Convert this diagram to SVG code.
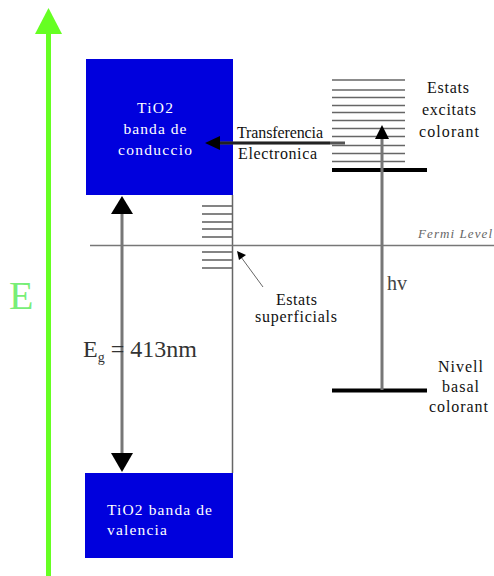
<svg xmlns="http://www.w3.org/2000/svg" width="494" height="576" viewBox="0 0 494 576">
<defs>
<style>
.t{font-family:"Liberation Serif","Times New Roman",serif;}
.w{fill:#fff;font-size:15.5px;}
.k{fill:#111;font-size:16px;}
.lv{stroke:#666;stroke-width:1.6;}
.thick{stroke:#000;stroke-width:4;}
</style>
</defs>
<rect width="494" height="576" fill="#fff"/>

<g id="energy-axis">
<line x1="48.5" y1="576" x2="48.5" y2="30" stroke="#66ff22" stroke-width="5"/>
<path d="M35,34 L48.5,8 L62,34 Z" fill="#66ff22"/>
<text class="t" x="9" y="309" font-size="40" fill="#77ee77">E</text>
</g>

<g id="conduction-band">
<rect x="86" y="59" width="147" height="136" fill="#0000dd"/>
<text class="t w" x="155" y="113" text-anchor="middle" textLength="36">TiO2</text>
<text class="t w" x="155" y="134" text-anchor="middle" textLength="63">banda de</text>
<text class="t w" x="155" y="155" text-anchor="middle" textLength="74">conduccio</text>
</g>

<g id="valence-band">
<rect x="85" y="473" width="148" height="85" fill="#0000dd"/>
<text class="t w" x="107" y="515" textLength="105">TiO2 banda de</text>
<text class="t w" x="107" y="535" textLength="60">valencia</text>
</g>

<g id="surface-states">
<line x1="232.5" y1="195" x2="232.5" y2="473" stroke="#666" stroke-width="1.5"/>
<g class="lv">
<line x1="202" y1="206" x2="232" y2="206"/>
<line x1="202" y1="214" x2="232" y2="214"/>
<line x1="202" y1="222" x2="232" y2="222"/>
<line x1="202" y1="229" x2="232" y2="229"/>
<line x1="202" y1="237" x2="232" y2="237"/>
<line x1="202" y1="252" x2="232" y2="252"/>
<line x1="202" y1="260" x2="232" y2="260"/>
<line x1="202" y1="268" x2="232" y2="268"/>
</g>
<text class="t k" x="296.5" y="305" text-anchor="middle" textLength="41">Estats</text>
<text class="t k" x="296" y="322" text-anchor="middle" textLength="82">superficials</text>
</g>

<g id="fermi-level">
<line x1="90" y1="245.5" x2="494" y2="245.5" stroke="#777" stroke-width="1.5"/>
<text class="t" x="418" y="238" font-size="13" font-style="italic" fill="#666" textLength="74">Fermi Level</text>
</g>

<g id="excited-states">
<g class="lv">
<line x1="332" y1="80" x2="405" y2="80"/>
<line x1="332" y1="90" x2="405" y2="90"/>
<line x1="332" y1="97.5" x2="405" y2="97.5"/>
<line x1="332" y1="105.5" x2="405" y2="105.5"/>
<line x1="332" y1="112.5" x2="405" y2="112.5"/>
<line x1="332" y1="120.5" x2="405" y2="120.5"/>
<line x1="332" y1="128.5" x2="405" y2="128.5"/>
<line x1="332" y1="136.5" x2="405" y2="136.5"/>
<line x1="332" y1="145.5" x2="405" y2="145.5"/>
<line x1="332" y1="153.5" x2="405" y2="153.5"/>
<line x1="332" y1="161.5" x2="405" y2="161.5"/>
</g>
<line class="thick" x1="332" y1="170" x2="427" y2="170"/>
<text class="t k" x="448" y="93" text-anchor="middle" textLength="42">Estats</text>
<text class="t k" x="449" y="115" text-anchor="middle" textLength="54">excitats</text>
<text class="t k" x="449" y="137" text-anchor="middle" textLength="60">colorant</text>
</g>

<g id="ground-state">
<line class="thick" x1="332" y1="390.5" x2="427" y2="390.5"/>
<text class="t k" x="460.5" y="372" text-anchor="middle" textLength="45">Nivell</text>
<text class="t k" x="460.5" y="392" text-anchor="middle" textLength="37">basal</text>
<text class="t k" x="458.5" y="412" text-anchor="middle" textLength="59">colorant</text>
</g>

<g id="connectors">
<line x1="382" y1="390" x2="382" y2="138" stroke="#777" stroke-width="3"/>
<path d="M375,139 L382,125 L389,139 Z" fill="#000"/>
<text class="t" x="387" y="290" font-size="20" fill="#444">hv</text>

<line x1="345" y1="143" x2="218" y2="143" stroke="#555" stroke-width="3"/>
<line x1="330" y1="143" x2="218" y2="143" stroke="#222" stroke-width="2.5"/>
<path d="M220,136 L205,143 L220,150 Z" fill="#000"/>
<text class="t k" x="237" y="138" textLength="86">Transferencia</text>
<text class="t k" x="238" y="159" textLength="79">Electronica</text>

<line x1="122" y1="210" x2="122" y2="456" stroke="#777" stroke-width="3"/>
<path d="M111,214 L122,196 L133,214 Z" fill="#000"/>
<path d="M111,453 L122,472 L133,453 Z" fill="#000"/>
<text class="t" x="83" y="357" font-size="24" fill="#333">E<tspan font-size="14" dy="5">g</tspan><tspan dy="-5"> = 413nm</tspan></text>

<line x1="263" y1="287" x2="241" y2="257" stroke="#666" stroke-width="1"/>
<path d="M246,255 L237,251 L239,260 Z" fill="#000"/>
</g>
</svg>
